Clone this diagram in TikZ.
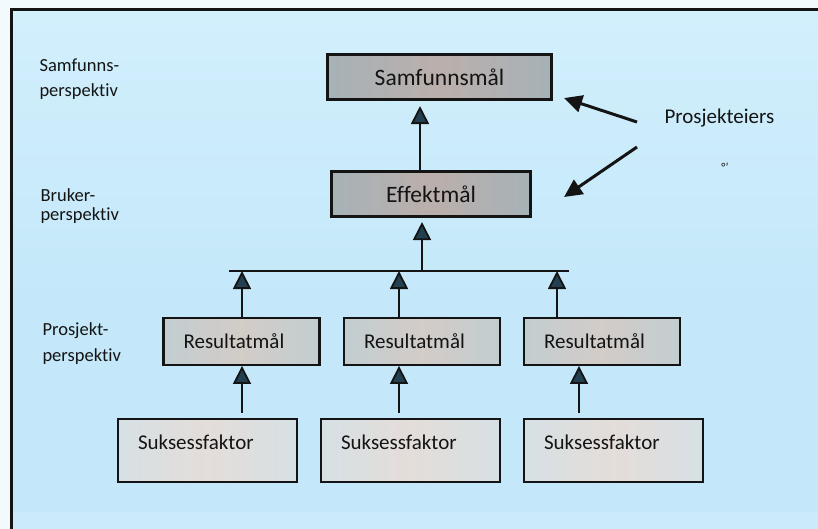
\documentclass[tikz,border=0pt]{standalone}
\usepackage{fontspec}
\setmainfont{Carlito}[Ligatures=NoCommon]
\usetikzlibrary{arrows.meta,calc}

\definecolor{paper}{HTML}{F2FAFE}
\definecolor{skytop}{HTML}{D2EFFC}
\definecolor{sky}{HTML}{C4E8FA}
\definecolor{ink}{HTML}{141414}
\definecolor{tipfill}{HTML}{22404F}
\definecolor{topedge}{HTML}{A6B2B7}
\definecolor{topmid}{HTML}{BBAFAB}
\definecolor{resedge}{HTML}{C2CDD1}
\definecolor{resmid}{HTML}{D3CCC7}
\definecolor{sukedge}{HTML}{D6E0E4}
\definecolor{sukmid}{HTML}{E4DDD9}

\tikzset{
  box/.style={draw=ink, text=ink, inner sep=0pt},
  topgoal/.style={box, line width=2.6pt, left color=topedge, right color=topedge, middle color=topmid,
    font=\fontsize{23.5}{28}\selectfont},
  resgoal/.style={box, line width=2.4pt, left color=resedge, right color=resedge, middle color=resmid,
    minimum width=156pt, minimum height=46.5pt, inner xsep=20pt, text width=116pt, align=left,
    font=\fontsize{21}{25}\selectfont},
  factor/.style={box, line width=2.2pt, left color=sukedge, right color=sukedge, middle color=sukmid,
    minimum width=179pt, minimum height=63pt, inner xsep=20pt, text width=139pt, align=left,
    text height=30.5pt, text depth=32.5pt, font=\fontsize{21}{25}\selectfont},
  uptip/.tip={Triangle[width=18pt,length=18pt,fill=tipfill,line width=1.8pt]},
  hier/.style={draw=ink, line width=2.2pt, -uptip},
  owner/.style={draw=ink, line width=3pt, -{Triangle[width=17pt,length=18pt]}},
  side/.style={anchor=base west, text=ink, font=\fontsize{18.5}{22}\selectfont},
}

\begin{document}
\begin{tikzpicture}[x=1pt,y=-1pt]
  % page and panel
  \fill[paper] (0,0) rectangle (818,529);
  \shade[top color=skytop, bottom color=sky] (11,9) rectangle (818,300);
  \fill[sky] (11,299) rectangle (818,529);
  \fill[white, opacity=0.12] (11,512) rectangle (818,529);
  \useasboundingbox (0,0) rectangle (818,529);
  \draw[ink, line width=3pt] (11.5,529) -- (11.5,9.5) -- (818,9.5);

  % perspective labels
  \node[side] (l1a) at (36,72) {Samfunns-};
  \node[side] (l1b) at (36,97) {perspektiv};
  \node[side] (l2a) at (37,202) {Bruker-};
  \node[side] (l2b) at (37,221) {perspektiv};
  \node[side] (l3a) at (39,335) {Prosjekt-};
  \node[side] (l3b) at (39,361) {perspektiv};

  % goal hierarchy
  \node[topgoal, minimum width=224.5pt, minimum height=45.5pt] (samf) at (439.5,77) {Samfunnsmål};
  \node[topgoal, minimum width=199.5pt, minimum height=45.5pt] (eff) at (431,194) {Effektmål};

  \node[resgoal] (res1) at (241.5,341.5) {Resultatmål};
  \node[resgoal] (res2) at (422,341.5) {Resultatmål};
  \node[resgoal] (res3) at (602,341.5) {Resultatmål};

  \node[factor] (suk1) at (207.5,450.5) {Suksessfaktor};
  \node[factor] (suk2) at (410.5,450.5) {Suksessfaktor};
  \node[factor] (suk3) at (613.5,450.5) {Suksessfaktor};

  % collecting bar
  \coordinate (barl) at (229,271);
  \coordinate (barr) at (569,271);
  \draw[ink, line width=2.2pt] (barl) -- (barr);

  % arrows up the hierarchy
  \coordinate (effin) at ($(eff.south)+(-9,0)$);
  \draw[hier, shorten >=4pt] (effin |- barl) -- (effin);
  \draw[hier, shorten >=5pt] ($(eff.north)+(-11,0)$) -- ($(samf.south)+(-19.5,0)$);

  \coordinate (u1) at ($(res1.north)+(0.5,0)$);
  \coordinate (u2) at ($(res2.north)+(-23,0)$);
  \coordinate (u3) at ($(res3.north)+(-45,0)$);
  \foreach \u in {u1,u2,u3} \draw[hier] (\u) -- (\u |- barl);

  \coordinate (d1) at ($(suk1.north)+(34.5,0)$);
  \coordinate (d2) at ($(suk2.north)+(-11.5,0)$);
  \coordinate (d3) at ($(suk3.north)+(-34.5,0)$);
  \draw[hier, shorten <=5pt] (d1) -- (d1 |- res1.south);
  \draw[hier, shorten <=5pt] (d2) -- (d2 |- res2.south);
  \draw[hier, shorten <=5pt] (d3) -- (d3 |- res3.south);

  % project owner
  \node[anchor=base west, text=ink, font=\fontsize{21}{25}\selectfont] (ownr) at (661,124) {Prosjekteiers};
  \node[text=ink, font=\fontsize{12}{14}\selectfont, inner sep=0pt] (mark) at (725,167) {°'};
  \coordinate (o1) at (637,122);
  \coordinate (o2) at (637,147);
  \draw[owner] (o1) -- ($(samf.south east)+(11,-3)$);
  \draw[owner] (o2) -- ($(eff.east)+(32,3)$);
\end{tikzpicture}
\end{document}
